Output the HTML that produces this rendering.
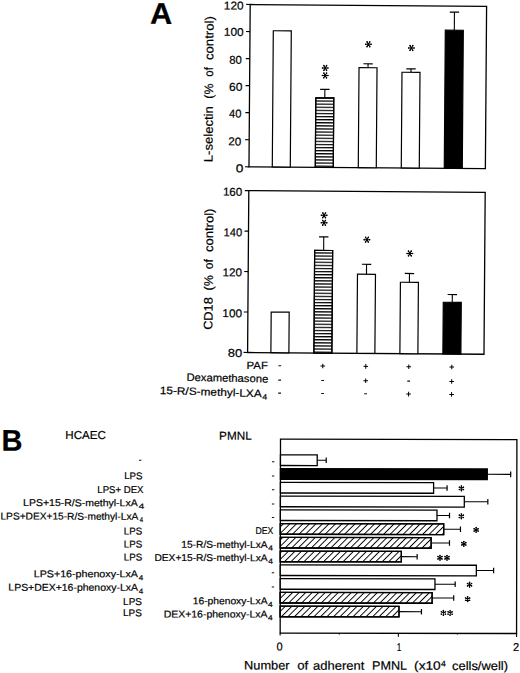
<!DOCTYPE html>
<html><head><meta charset="utf-8"><style>
html,body{margin:0;padding:0;background:#fff;}
body{width:520px;height:673px;overflow:hidden;}
svg{display:block;}
text{font-family:"Liberation Sans", sans-serif;fill:#000;stroke:#000;stroke-width:0.2px;}
</style></head><body>
<svg width="520" height="673" viewBox="0 0 520 673">
<rect width="520" height="673" fill="#fff"/>
<defs><pattern id="hs" patternUnits="userSpaceOnUse" width="20" height="3.1" y="0.7"><rect width="20" height="1.25" fill="#000"/></pattern><pattern id="diag" patternUnits="userSpaceOnUse" width="4.6" height="4.6" patternTransform="rotate(45)"><rect width="0.95" height="4.6" fill="#000"/></pattern></defs>
<g transform="rotate(0.43 250.2 4.5)">
<rect x="250.20" y="4.50" width="236.40" height="162.30" fill="none" stroke="#000" stroke-width="1.3"/>
<line x1="246.20" y1="166.80" x2="250.20" y2="166.80" stroke="#000" stroke-width="1.2"/>
<line x1="246.20" y1="139.75" x2="250.20" y2="139.75" stroke="#000" stroke-width="1.2"/>
<line x1="246.20" y1="112.70" x2="250.20" y2="112.70" stroke="#000" stroke-width="1.2"/>
<line x1="246.20" y1="85.65" x2="250.20" y2="85.65" stroke="#000" stroke-width="1.2"/>
<line x1="246.20" y1="58.60" x2="250.20" y2="58.60" stroke="#000" stroke-width="1.2"/>
<line x1="246.20" y1="31.55" x2="250.20" y2="31.55" stroke="#000" stroke-width="1.2"/>
<line x1="246.20" y1="4.50" x2="250.20" y2="4.50" stroke="#000" stroke-width="1.2"/>
<rect x="273.50" y="30.56" width="18.00" height="136.24" fill="#fff" stroke="#000" stroke-width="1.2"/>
<line x1="325.50" y1="88.84" x2="325.50" y2="97.34" stroke="#000" stroke-width="1.1"/>
<line x1="320.80" y1="88.84" x2="330.20" y2="88.84" stroke="#000" stroke-width="1.2"/>
<rect x="316.50" y="97.34" width="18.00" height="69.46" fill="#fff" stroke="#000" stroke-width="1.2"/>
<rect x="316.50" y="97.34" width="18.00" height="69.46" fill="url(#hs)" stroke="#000" stroke-width="1.2"/>
<line x1="368.50" y1="62.90" x2="368.50" y2="66.80" stroke="#000" stroke-width="1.1"/>
<line x1="363.80" y1="62.90" x2="373.20" y2="62.90" stroke="#000" stroke-width="1.2"/>
<rect x="359.50" y="66.80" width="18.00" height="100.00" fill="#fff" stroke="#000" stroke-width="1.2"/>
<line x1="411.50" y1="67.70" x2="411.50" y2="71.10" stroke="#000" stroke-width="1.1"/>
<line x1="406.80" y1="67.70" x2="416.20" y2="67.70" stroke="#000" stroke-width="1.2"/>
<rect x="402.50" y="71.10" width="18.00" height="95.70" fill="#fff" stroke="#000" stroke-width="1.2"/>
<line x1="454.50" y1="10.57" x2="454.50" y2="28.67" stroke="#000" stroke-width="1.1"/>
<line x1="449.80" y1="10.57" x2="459.20" y2="10.57" stroke="#000" stroke-width="1.2"/>
<rect x="445.50" y="28.67" width="18.00" height="138.13" fill="#000" stroke="#000" stroke-width="1.2"/>
<path d="M322.50 67.40L328.90 67.40M324.10 64.63L327.30 70.17M327.30 64.63L324.10 70.17" stroke="#000" stroke-width="1.05" fill="none"/><circle cx="328.42" cy="67.40" r="0.8"/><circle cx="322.98" cy="67.40" r="0.8"/><circle cx="327.06" cy="69.76" r="0.8"/><circle cx="324.34" cy="65.04" r="0.8"/><circle cx="324.34" cy="69.76" r="0.8"/><circle cx="327.06" cy="65.04" r="0.8"/>
<path d="M322.50 74.90L328.90 74.90M324.10 72.13L327.30 77.67M327.30 72.13L324.10 77.67" stroke="#000" stroke-width="1.05" fill="none"/><circle cx="328.42" cy="74.90" r="0.8"/><circle cx="322.98" cy="74.90" r="0.8"/><circle cx="327.06" cy="77.26" r="0.8"/><circle cx="324.34" cy="72.54" r="0.8"/><circle cx="324.34" cy="77.26" r="0.8"/><circle cx="327.06" cy="72.54" r="0.8"/>
<path d="M365.50 43.40L371.90 43.40M367.10 40.63L370.30 46.17M370.30 40.63L367.10 46.17" stroke="#000" stroke-width="1.05" fill="none"/><circle cx="371.42" cy="43.40" r="0.8"/><circle cx="365.98" cy="43.40" r="0.8"/><circle cx="370.06" cy="45.76" r="0.8"/><circle cx="367.34" cy="41.04" r="0.8"/><circle cx="367.34" cy="45.76" r="0.8"/><circle cx="370.06" cy="41.04" r="0.8"/>
<path d="M408.50 46.80L414.90 46.80M410.10 44.03L413.30 49.57M413.30 44.03L410.10 49.57" stroke="#000" stroke-width="1.05" fill="none"/><circle cx="414.42" cy="46.80" r="0.8"/><circle cx="408.98" cy="46.80" r="0.8"/><circle cx="413.06" cy="49.16" r="0.8"/><circle cx="410.34" cy="44.44" r="0.8"/><circle cx="410.34" cy="49.16" r="0.8"/><circle cx="413.06" cy="44.44" r="0.8"/>
<rect x="250.20" y="190.60" width="236.40" height="161.90" fill="none" stroke="#000" stroke-width="1.3"/>
<line x1="246.20" y1="352.50" x2="250.20" y2="352.50" stroke="#000" stroke-width="1.2"/>
<line x1="246.20" y1="312.02" x2="250.20" y2="312.02" stroke="#000" stroke-width="1.2"/>
<line x1="246.20" y1="271.55" x2="250.20" y2="271.55" stroke="#000" stroke-width="1.2"/>
<line x1="246.20" y1="231.07" x2="250.20" y2="231.07" stroke="#000" stroke-width="1.2"/>
<line x1="246.20" y1="190.60" x2="250.20" y2="190.60" stroke="#000" stroke-width="1.2"/>
<rect x="273.50" y="311.90" width="18.00" height="40.60" fill="#fff" stroke="#000" stroke-width="1.2"/>
<line x1="325.50" y1="236.35" x2="325.50" y2="249.85" stroke="#000" stroke-width="1.1"/>
<line x1="320.80" y1="236.35" x2="330.20" y2="236.35" stroke="#000" stroke-width="1.2"/>
<rect x="316.50" y="249.85" width="18.00" height="102.65" fill="#fff" stroke="#000" stroke-width="1.2"/>
<rect x="316.50" y="249.85" width="18.00" height="102.65" fill="url(#hs)" stroke="#000" stroke-width="1.2"/>
<line x1="368.50" y1="263.40" x2="368.50" y2="273.40" stroke="#000" stroke-width="1.1"/>
<line x1="363.80" y1="263.40" x2="373.20" y2="263.40" stroke="#000" stroke-width="1.2"/>
<rect x="359.50" y="273.40" width="18.00" height="79.10" fill="#fff" stroke="#000" stroke-width="1.2"/>
<line x1="411.50" y1="272.30" x2="411.50" y2="281.10" stroke="#000" stroke-width="1.1"/>
<line x1="406.80" y1="272.30" x2="416.20" y2="272.30" stroke="#000" stroke-width="1.2"/>
<rect x="402.50" y="281.10" width="18.00" height="71.40" fill="#fff" stroke="#000" stroke-width="1.2"/>
<line x1="454.50" y1="293.00" x2="454.50" y2="300.80" stroke="#000" stroke-width="1.1"/>
<line x1="449.80" y1="293.00" x2="459.20" y2="293.00" stroke="#000" stroke-width="1.2"/>
<rect x="445.50" y="300.80" width="18.00" height="51.70" fill="#000" stroke="#000" stroke-width="1.2"/>
<path d="M322.50 214.75L328.90 214.75M324.10 211.98L327.30 217.52M327.30 211.98L324.10 217.52" stroke="#000" stroke-width="1.05" fill="none"/><circle cx="328.42" cy="214.75" r="0.8"/><circle cx="322.98" cy="214.75" r="0.8"/><circle cx="327.06" cy="217.11" r="0.8"/><circle cx="324.34" cy="212.39" r="0.8"/><circle cx="324.34" cy="217.11" r="0.8"/><circle cx="327.06" cy="212.39" r="0.8"/>
<path d="M322.50 222.25L328.90 222.25M324.10 219.48L327.30 225.02M327.30 219.48L324.10 225.02" stroke="#000" stroke-width="1.05" fill="none"/><circle cx="328.42" cy="222.25" r="0.8"/><circle cx="322.98" cy="222.25" r="0.8"/><circle cx="327.06" cy="224.61" r="0.8"/><circle cx="324.34" cy="219.89" r="0.8"/><circle cx="324.34" cy="224.61" r="0.8"/><circle cx="327.06" cy="219.89" r="0.8"/>
<path d="M365.50 238.80L371.90 238.80M367.10 236.03L370.30 241.57M370.30 236.03L367.10 241.57" stroke="#000" stroke-width="1.05" fill="none"/><circle cx="371.42" cy="238.80" r="0.8"/><circle cx="365.98" cy="238.80" r="0.8"/><circle cx="370.06" cy="241.16" r="0.8"/><circle cx="367.34" cy="236.44" r="0.8"/><circle cx="367.34" cy="241.16" r="0.8"/><circle cx="370.06" cy="236.44" r="0.8"/>
<path d="M408.50 252.30L414.90 252.30M410.10 249.53L413.30 255.07M413.30 249.53L410.10 255.07" stroke="#000" stroke-width="1.05" fill="none"/><circle cx="414.42" cy="252.30" r="0.8"/><circle cx="408.98" cy="252.30" r="0.8"/><circle cx="413.06" cy="254.66" r="0.8"/><circle cx="410.34" cy="249.94" r="0.8"/><circle cx="410.34" cy="254.66" r="0.8"/><circle cx="413.06" cy="249.94" r="0.8"/>
<rect x="281.10" y="364.95" width="2.8" height="1.1" fill="#111"/>
<line x1="323.20" y1="365.50" x2="327.80" y2="365.50" stroke="#000" stroke-width="1.0"/>
<line x1="325.50" y1="363.20" x2="325.50" y2="367.80" stroke="#000" stroke-width="1.0"/>
<line x1="366.20" y1="365.50" x2="370.80" y2="365.50" stroke="#000" stroke-width="1.0"/>
<line x1="368.50" y1="363.20" x2="368.50" y2="367.80" stroke="#000" stroke-width="1.0"/>
<line x1="409.20" y1="365.50" x2="413.80" y2="365.50" stroke="#000" stroke-width="1.0"/>
<line x1="411.50" y1="363.20" x2="411.50" y2="367.80" stroke="#000" stroke-width="1.0"/>
<line x1="452.20" y1="365.50" x2="456.80" y2="365.50" stroke="#000" stroke-width="1.0"/>
<line x1="454.50" y1="363.20" x2="454.50" y2="367.80" stroke="#000" stroke-width="1.0"/>
<rect x="281.10" y="379.35" width="2.8" height="1.1" fill="#111"/>
<rect x="324.10" y="379.35" width="2.8" height="1.1" fill="#111"/>
<line x1="366.20" y1="379.90" x2="370.80" y2="379.90" stroke="#000" stroke-width="1.0"/>
<line x1="368.50" y1="377.60" x2="368.50" y2="382.20" stroke="#000" stroke-width="1.0"/>
<rect x="410.10" y="379.35" width="2.8" height="1.1" fill="#111"/>
<line x1="452.20" y1="379.90" x2="456.80" y2="379.90" stroke="#000" stroke-width="1.0"/>
<line x1="454.50" y1="377.60" x2="454.50" y2="382.20" stroke="#000" stroke-width="1.0"/>
<rect x="281.10" y="392.35" width="2.8" height="1.1" fill="#111"/>
<rect x="324.10" y="392.35" width="2.8" height="1.1" fill="#111"/>
<rect x="367.10" y="392.35" width="2.8" height="1.1" fill="#111"/>
<line x1="409.20" y1="392.90" x2="413.80" y2="392.90" stroke="#000" stroke-width="1.0"/>
<line x1="411.50" y1="390.60" x2="411.50" y2="395.20" stroke="#000" stroke-width="1.0"/>
<line x1="452.20" y1="392.90" x2="456.80" y2="392.90" stroke="#000" stroke-width="1.0"/>
<line x1="454.50" y1="390.60" x2="454.50" y2="395.20" stroke="#000" stroke-width="1.0"/>
<text x="150.20" y="24.50" font-size="30" font-weight="bold" textLength="22.20" lengthAdjust="spacingAndGlyphs">A</text>
<text x="237.12" y="172.40" font-size="11.4" font-weight="normal" textLength="7.57" lengthAdjust="spacingAndGlyphs">0</text>
<text x="229.32" y="145.50" font-size="11.4" font-weight="normal" textLength="12.97" lengthAdjust="spacingAndGlyphs">20</text>
<text x="229.92" y="117.60" font-size="11.4" font-weight="normal" textLength="12.37" lengthAdjust="spacingAndGlyphs">40</text>
<text x="229.72" y="90.80" font-size="11.4" font-weight="normal" textLength="13.37" lengthAdjust="spacingAndGlyphs">60</text>
<text x="229.72" y="63.90" font-size="11.4" font-weight="normal" textLength="12.57" lengthAdjust="spacingAndGlyphs">80</text>
<text x="224.12" y="36.00" font-size="11.4" font-weight="normal" textLength="19.77" lengthAdjust="spacingAndGlyphs">100</text>
<text x="223.92" y="9.60" font-size="11.4" font-weight="normal" textLength="19.57" lengthAdjust="spacingAndGlyphs">120</text>
<text transform="translate(213.60 162.54) rotate(-90)" font-size="12.3" textLength="56.08" lengthAdjust="spacingAndGlyphs">L-selectin</text>
<text transform="translate(213.60 98.94) rotate(-90)" font-size="12.3" textLength="15.08" lengthAdjust="spacingAndGlyphs">(%</text>
<text transform="translate(213.60 76.94) rotate(-90)" font-size="12.3" textLength="9.48" lengthAdjust="spacingAndGlyphs">of</text>
<text transform="translate(213.60 60.34) rotate(-90)" font-size="12.3" textLength="43.88" lengthAdjust="spacingAndGlyphs">control)</text>
<text x="230.52" y="357.00" font-size="11.4" font-weight="normal" textLength="14.37" lengthAdjust="spacingAndGlyphs">80</text>
<text x="224.72" y="317.30" font-size="11.4" font-weight="normal" textLength="19.57" lengthAdjust="spacingAndGlyphs">100</text>
<text x="224.52" y="276.40" font-size="11.4" font-weight="normal" textLength="19.37" lengthAdjust="spacingAndGlyphs">120</text>
<text x="225.32" y="236.40" font-size="11.4" font-weight="normal" textLength="18.57" lengthAdjust="spacingAndGlyphs">140</text>
<text x="224.32" y="195.80" font-size="11.4" font-weight="normal" textLength="19.37" lengthAdjust="spacingAndGlyphs">160</text>
<text transform="translate(214.80 330.14) rotate(-90)" font-size="12.3" textLength="32.68" lengthAdjust="spacingAndGlyphs">CD18</text>
<text transform="translate(214.80 290.74) rotate(-90)" font-size="12.3" textLength="15.28" lengthAdjust="spacingAndGlyphs">(%</text>
<text transform="translate(214.80 269.54) rotate(-90)" font-size="12.3" textLength="10.08" lengthAdjust="spacingAndGlyphs">of</text>
<text transform="translate(214.80 252.34) rotate(-90)" font-size="12.3" textLength="43.48" lengthAdjust="spacingAndGlyphs">control)</text>
<text x="249.36" y="369.00" font-size="10.6" font-weight="normal" textLength="21.27" lengthAdjust="spacingAndGlyphs">PAF</text>
<text x="189.36" y="381.80" font-size="10.6" font-weight="normal" textLength="81.67" lengthAdjust="spacingAndGlyphs" transform="rotate(0.8 230.20 378.09)">Dexamethasone</text>
<text x="162.76" y="395.80" font-size="10.6" font-weight="normal" textLength="101.87" lengthAdjust="spacingAndGlyphs" transform="rotate(1.4 213.70 392.09)">15-R/S-methyl-LXA</text>
<text x="265.34" y="399.30" font-size="7.6" font-weight="normal" textLength="4.91" lengthAdjust="spacingAndGlyphs">4</text>
</g>
<g transform="rotate(0.1 280.5 439.2)">
<rect x="280.50" y="439.20" width="236.40" height="193.90" fill="none" stroke="#000" stroke-width="1.3"/>
<line x1="280.50" y1="633.10" x2="280.50" y2="635.60" stroke="#000" stroke-width="1.1"/>
<line x1="339.60" y1="633.10" x2="339.60" y2="634.30" stroke="#000" stroke-width="1.1"/>
<line x1="398.70" y1="633.10" x2="398.70" y2="636.50" stroke="#000" stroke-width="1.1"/>
<line x1="457.80" y1="633.10" x2="457.80" y2="634.30" stroke="#000" stroke-width="1.1"/>
<line x1="516.90" y1="633.10" x2="516.90" y2="636.50" stroke="#000" stroke-width="1.1"/>
<line x1="317.26" y1="460.20" x2="326.24" y2="460.20" stroke="#000" stroke-width="1.1"/>
<line x1="326.24" y1="457.40" x2="326.24" y2="463.00" stroke="#000" stroke-width="1.2"/>
<rect x="280.50" y="454.90" width="36.76" height="10.60" fill="#fff" stroke="#000" stroke-width="1.3"/>
<line x1="487.35" y1="473.95" x2="510.75" y2="473.95" stroke="#000" stroke-width="1.1"/>
<line x1="510.75" y1="471.15" x2="510.75" y2="476.75" stroke="#000" stroke-width="1.2"/>
<rect x="280.50" y="468.65" width="206.85" height="10.60" fill="#000" stroke="#000" stroke-width="1.3"/>
<line x1="433.69" y1="487.70" x2="447.16" y2="487.70" stroke="#000" stroke-width="1.1"/>
<line x1="447.16" y1="484.90" x2="447.16" y2="490.50" stroke="#000" stroke-width="1.2"/>
<rect x="280.50" y="482.40" width="153.19" height="10.60" fill="#fff" stroke="#000" stroke-width="1.3"/>
<line x1="464.42" y1="501.45" x2="487.94" y2="501.45" stroke="#000" stroke-width="1.1"/>
<line x1="487.94" y1="498.65" x2="487.94" y2="504.25" stroke="#000" stroke-width="1.2"/>
<rect x="280.50" y="496.15" width="183.92" height="10.60" fill="#fff" stroke="#000" stroke-width="1.3"/>
<line x1="437.12" y1="515.20" x2="449.64" y2="515.20" stroke="#000" stroke-width="1.1"/>
<line x1="449.64" y1="512.40" x2="449.64" y2="518.00" stroke="#000" stroke-width="1.2"/>
<rect x="280.50" y="509.90" width="156.62" height="10.60" fill="#fff" stroke="#000" stroke-width="1.3"/>
<line x1="443.85" y1="528.95" x2="460.64" y2="528.95" stroke="#000" stroke-width="1.1"/>
<line x1="460.64" y1="526.15" x2="460.64" y2="531.75" stroke="#000" stroke-width="1.2"/>
<rect x="280.50" y="523.65" width="163.35" height="10.60" fill="#fff" stroke="#000" stroke-width="1.3"/>
<rect x="280.50" y="523.65" width="163.35" height="10.60" fill="url(#diag)" stroke="#000" stroke-width="1.3"/>
<line x1="431.32" y1="542.70" x2="449.64" y2="542.70" stroke="#000" stroke-width="1.1"/>
<line x1="449.64" y1="539.90" x2="449.64" y2="545.50" stroke="#000" stroke-width="1.2"/>
<rect x="280.50" y="537.40" width="150.82" height="10.60" fill="#fff" stroke="#000" stroke-width="1.3"/>
<rect x="280.50" y="537.40" width="150.82" height="10.60" fill="url(#diag)" stroke="#000" stroke-width="1.3"/>
<line x1="401.54" y1="556.45" x2="417.38" y2="556.45" stroke="#000" stroke-width="1.1"/>
<line x1="417.38" y1="553.65" x2="417.38" y2="559.25" stroke="#000" stroke-width="1.2"/>
<rect x="280.50" y="551.15" width="121.04" height="10.60" fill="#fff" stroke="#000" stroke-width="1.3"/>
<rect x="280.50" y="551.15" width="121.04" height="10.60" fill="url(#diag)" stroke="#000" stroke-width="1.3"/>
<line x1="476.59" y1="570.20" x2="493.85" y2="570.20" stroke="#000" stroke-width="1.1"/>
<line x1="493.85" y1="567.40" x2="493.85" y2="573.00" stroke="#000" stroke-width="1.2"/>
<rect x="280.50" y="564.90" width="196.09" height="10.60" fill="#fff" stroke="#000" stroke-width="1.3"/>
<line x1="435.22" y1="583.95" x2="455.44" y2="583.95" stroke="#000" stroke-width="1.1"/>
<line x1="455.44" y1="581.15" x2="455.44" y2="586.75" stroke="#000" stroke-width="1.2"/>
<rect x="280.50" y="578.65" width="154.72" height="10.60" fill="#fff" stroke="#000" stroke-width="1.3"/>
<line x1="432.39" y1="597.70" x2="454.02" y2="597.70" stroke="#000" stroke-width="1.1"/>
<line x1="454.02" y1="594.90" x2="454.02" y2="600.50" stroke="#000" stroke-width="1.2"/>
<rect x="280.50" y="592.40" width="151.89" height="10.60" fill="#fff" stroke="#000" stroke-width="1.3"/>
<rect x="280.50" y="592.40" width="151.89" height="10.60" fill="url(#diag)" stroke="#000" stroke-width="1.3"/>
<line x1="399.29" y1="611.45" x2="421.75" y2="611.45" stroke="#000" stroke-width="1.1"/>
<line x1="421.75" y1="608.65" x2="421.75" y2="614.25" stroke="#000" stroke-width="1.2"/>
<rect x="280.50" y="606.15" width="118.79" height="10.60" fill="#fff" stroke="#000" stroke-width="1.3"/>
<rect x="280.50" y="606.15" width="118.79" height="10.60" fill="url(#diag)" stroke="#000" stroke-width="1.3"/>
<path d="M461.50 485.30L461.50 490.90M459.08 486.70L463.92 489.50M463.92 486.70L459.08 489.50" stroke="#000" stroke-width="1.05" fill="none"/><circle cx="461.50" cy="490.42" r="0.8"/><circle cx="461.50" cy="485.78" r="0.8"/><circle cx="463.51" cy="489.26" r="0.8"/><circle cx="459.49" cy="486.94" r="0.8"/><circle cx="459.49" cy="489.26" r="0.8"/><circle cx="463.51" cy="486.94" r="0.8"/>
<path d="M461.50 513.20L461.50 518.80M459.08 514.60L463.92 517.40M463.92 514.60L459.08 517.40" stroke="#000" stroke-width="1.05" fill="none"/><circle cx="461.50" cy="518.32" r="0.8"/><circle cx="461.50" cy="513.68" r="0.8"/><circle cx="463.51" cy="517.16" r="0.8"/><circle cx="459.49" cy="514.84" r="0.8"/><circle cx="459.49" cy="517.16" r="0.8"/><circle cx="463.51" cy="514.84" r="0.8"/>
<path d="M476.30 526.80L476.30 532.40M473.88 528.20L478.72 531.00M478.72 528.20L473.88 531.00" stroke="#000" stroke-width="1.05" fill="none"/><circle cx="476.30" cy="531.92" r="0.8"/><circle cx="476.30" cy="527.28" r="0.8"/><circle cx="478.31" cy="530.76" r="0.8"/><circle cx="474.29" cy="528.44" r="0.8"/><circle cx="474.29" cy="530.76" r="0.8"/><circle cx="478.31" cy="528.44" r="0.8"/>
<path d="M464.00 540.70L464.00 546.30M461.58 542.10L466.42 544.90M466.42 542.10L461.58 544.90" stroke="#000" stroke-width="1.05" fill="none"/><circle cx="464.00" cy="545.82" r="0.8"/><circle cx="464.00" cy="541.18" r="0.8"/><circle cx="466.01" cy="544.66" r="0.8"/><circle cx="461.99" cy="542.34" r="0.8"/><circle cx="461.99" cy="544.66" r="0.8"/><circle cx="466.01" cy="542.34" r="0.8"/>
<path d="M440.20 554.70L440.20 560.30M437.78 556.10L442.62 558.90M442.62 556.10L437.78 558.90" stroke="#000" stroke-width="1.05" fill="none"/><circle cx="440.20" cy="559.82" r="0.8"/><circle cx="440.20" cy="555.18" r="0.8"/><circle cx="442.21" cy="558.66" r="0.8"/><circle cx="438.19" cy="556.34" r="0.8"/><circle cx="438.19" cy="558.66" r="0.8"/><circle cx="442.21" cy="556.34" r="0.8"/>
<path d="M447.20 554.70L447.20 560.30M444.78 556.10L449.62 558.90M449.62 556.10L444.78 558.90" stroke="#000" stroke-width="1.05" fill="none"/><circle cx="447.20" cy="559.82" r="0.8"/><circle cx="447.20" cy="555.18" r="0.8"/><circle cx="449.21" cy="558.66" r="0.8"/><circle cx="445.19" cy="556.34" r="0.8"/><circle cx="445.19" cy="558.66" r="0.8"/><circle cx="449.21" cy="556.34" r="0.8"/>
<path d="M469.80 581.60L469.80 587.20M467.38 583.00L472.22 585.80M472.22 583.00L467.38 585.80" stroke="#000" stroke-width="1.05" fill="none"/><circle cx="469.80" cy="586.72" r="0.8"/><circle cx="469.80" cy="582.08" r="0.8"/><circle cx="471.81" cy="585.56" r="0.8"/><circle cx="467.79" cy="583.24" r="0.8"/><circle cx="467.79" cy="585.56" r="0.8"/><circle cx="471.81" cy="583.24" r="0.8"/>
<path d="M467.90 596.00L467.90 601.60M465.48 597.40L470.32 600.20M470.32 597.40L465.48 600.20" stroke="#000" stroke-width="1.05" fill="none"/><circle cx="467.90" cy="601.12" r="0.8"/><circle cx="467.90" cy="596.48" r="0.8"/><circle cx="469.91" cy="599.96" r="0.8"/><circle cx="465.89" cy="597.64" r="0.8"/><circle cx="465.89" cy="599.96" r="0.8"/><circle cx="469.91" cy="597.64" r="0.8"/>
<path d="M443.70 609.90L443.70 615.50M441.28 611.30L446.12 614.10M446.12 611.30L441.28 614.10" stroke="#000" stroke-width="1.05" fill="none"/><circle cx="443.70" cy="615.02" r="0.8"/><circle cx="443.70" cy="610.38" r="0.8"/><circle cx="445.71" cy="613.86" r="0.8"/><circle cx="441.69" cy="611.54" r="0.8"/><circle cx="441.69" cy="613.86" r="0.8"/><circle cx="445.71" cy="611.54" r="0.8"/>
<path d="M450.40 609.90L450.40 615.50M447.98 611.30L452.82 614.10M452.82 611.30L447.98 614.10" stroke="#000" stroke-width="1.05" fill="none"/><circle cx="450.40" cy="615.02" r="0.8"/><circle cx="450.40" cy="610.38" r="0.8"/><circle cx="452.41" cy="613.86" r="0.8"/><circle cx="448.39" cy="611.54" r="0.8"/><circle cx="448.39" cy="613.86" r="0.8"/><circle cx="452.41" cy="611.54" r="0.8"/>
<rect x="139.00" y="459.95" width="2.4" height="1.1" fill="#111"/>
<rect x="272.00" y="461.15" width="2.4" height="1.1" fill="#111"/>
<rect x="272.00" y="475.45" width="2.4" height="1.1" fill="#111"/>
<rect x="272.00" y="489.15" width="2.4" height="1.1" fill="#111"/>
<rect x="272.00" y="503.45" width="2.4" height="1.1" fill="#111"/>
<rect x="272.00" y="516.95" width="2.4" height="1.1" fill="#111"/>
<rect x="272.00" y="572.25" width="2.4" height="1.1" fill="#111"/>
<rect x="272.00" y="586.45" width="2.4" height="1.1" fill="#111"/>
<text x="1.60" y="451.30" font-size="30" font-weight="bold" textLength="21.00" lengthAdjust="spacingAndGlyphs">B</text>
<text x="65.30" y="439.40" font-size="11.6" font-weight="normal" textLength="40.59" lengthAdjust="spacingAndGlyphs">HCAEC</text>
<text x="219.10" y="439.80" font-size="11.6" font-weight="normal" textLength="32.59" lengthAdjust="spacingAndGlyphs">PMNL</text>
<text x="276.92" y="650.50" font-size="11.4" font-weight="normal" textLength="6.17" lengthAdjust="spacingAndGlyphs">0</text>
<text x="397.12" y="650.70" font-size="11.4" font-weight="normal" textLength="4.57" lengthAdjust="spacingAndGlyphs">1</text>
<text x="513.32" y="650.70" font-size="11.4" font-weight="normal" textLength="6.17" lengthAdjust="spacingAndGlyphs">2</text>
<text x="124.21" y="479.40" font-size="9.9" font-weight="normal" textLength="18.39" lengthAdjust="spacingAndGlyphs">LPS</text>
<text x="97.41" y="493.30" font-size="9.9" font-weight="normal" textLength="46.19" lengthAdjust="spacingAndGlyphs">LPS+ DEX</text>
<text x="23.21" y="506.50" font-size="9.9" font-weight="normal" textLength="114.59" lengthAdjust="spacingAndGlyphs">LPS+15-R/S-methyl-LxA</text>
<text x="138.76" y="508.90" font-size="7.4" font-weight="normal" textLength="5.49" lengthAdjust="spacingAndGlyphs">4</text>
<text x="0.61" y="520.00" font-size="9.9" font-weight="normal" textLength="137.79" lengthAdjust="spacingAndGlyphs">LPS+DEX+15-R/S-methyl-LxA</text>
<text x="139.96" y="522.60" font-size="7.4" font-weight="normal" textLength="3.29" lengthAdjust="spacingAndGlyphs">4</text>
<text x="124.01" y="534.80" font-size="9.9" font-weight="normal" textLength="18.39" lengthAdjust="spacingAndGlyphs">LPS</text>
<text x="124.01" y="547.70" font-size="9.9" font-weight="normal" textLength="18.39" lengthAdjust="spacingAndGlyphs">LPS</text>
<text x="124.01" y="560.70" font-size="9.9" font-weight="normal" textLength="18.39" lengthAdjust="spacingAndGlyphs">LPS</text>
<text x="34.01" y="577.60" font-size="9.9" font-weight="normal" textLength="104.19" lengthAdjust="spacingAndGlyphs">LPS+16-phenoxy-LxA</text>
<text x="138.96" y="580.60" font-size="7.4" font-weight="normal" textLength="4.49" lengthAdjust="spacingAndGlyphs">4</text>
<text x="8.61" y="591.10" font-size="9.9" font-weight="normal" textLength="129.59" lengthAdjust="spacingAndGlyphs">LPS+DEX+16-phenoxy-LxA</text>
<text x="138.96" y="594.00" font-size="7.4" font-weight="normal" textLength="4.49" lengthAdjust="spacingAndGlyphs">4</text>
<text x="123.41" y="605.20" font-size="9.9" font-weight="normal" textLength="18.79" lengthAdjust="spacingAndGlyphs">LPS</text>
<text x="123.41" y="616.40" font-size="9.9" font-weight="normal" textLength="18.79" lengthAdjust="spacingAndGlyphs">LPS</text>
<text x="255.61" y="534.10" font-size="9.9" font-weight="normal" textLength="17.79" lengthAdjust="spacingAndGlyphs">DEX</text>
<text x="181.41" y="548.00" font-size="9.9" font-weight="normal" textLength="86.39" lengthAdjust="spacingAndGlyphs">15-R/S-methyl-LxA</text>
<text x="268.36" y="550.60" font-size="7.4" font-weight="normal" textLength="4.69" lengthAdjust="spacingAndGlyphs">4</text>
<text x="154.61" y="561.20" font-size="9.9" font-weight="normal" textLength="113.19" lengthAdjust="spacingAndGlyphs">DEX+15-R/S-methyl-LxA</text>
<text x="268.36" y="563.80" font-size="7.4" font-weight="normal" textLength="4.69" lengthAdjust="spacingAndGlyphs">4</text>
<text x="193.01" y="604.40" font-size="9.9" font-weight="normal" textLength="74.79" lengthAdjust="spacingAndGlyphs">16-phenoxy-LxA</text>
<text x="268.36" y="607.00" font-size="7.4" font-weight="normal" textLength="4.69" lengthAdjust="spacingAndGlyphs">4</text>
<text x="164.01" y="617.60" font-size="9.9" font-weight="normal" textLength="103.79" lengthAdjust="spacingAndGlyphs">DEX+16-phenoxy-LxA</text>
<text x="268.36" y="620.20" font-size="7.4" font-weight="normal" textLength="4.69" lengthAdjust="spacingAndGlyphs">4</text>
<text x="244.47" y="669.60" font-size="12.2" font-weight="normal" textLength="45.46" lengthAdjust="spacingAndGlyphs">Number</text>
<text x="297.67" y="669.60" font-size="12.2" font-weight="normal" textLength="11.06" lengthAdjust="spacingAndGlyphs">of</text>
<text x="313.47" y="669.60" font-size="12.2" font-weight="normal" textLength="51.26" lengthAdjust="spacingAndGlyphs">adherent</text>
<text x="372.47" y="669.60" font-size="12.2" font-weight="normal" textLength="35.06" lengthAdjust="spacingAndGlyphs">PMNL</text>
<text x="414.47" y="669.60" font-size="12.2" font-weight="normal" textLength="26.66" lengthAdjust="spacingAndGlyphs">(x10</text>
<text x="441.30" y="666.20" font-size="8.4" font-weight="normal" textLength="4.81" lengthAdjust="spacingAndGlyphs">4</text>
<text x="452.47" y="669.60" font-size="12.2" font-weight="normal" textLength="55.86" lengthAdjust="spacingAndGlyphs">cells/well)</text>
</g>
</svg>
</body></html>
